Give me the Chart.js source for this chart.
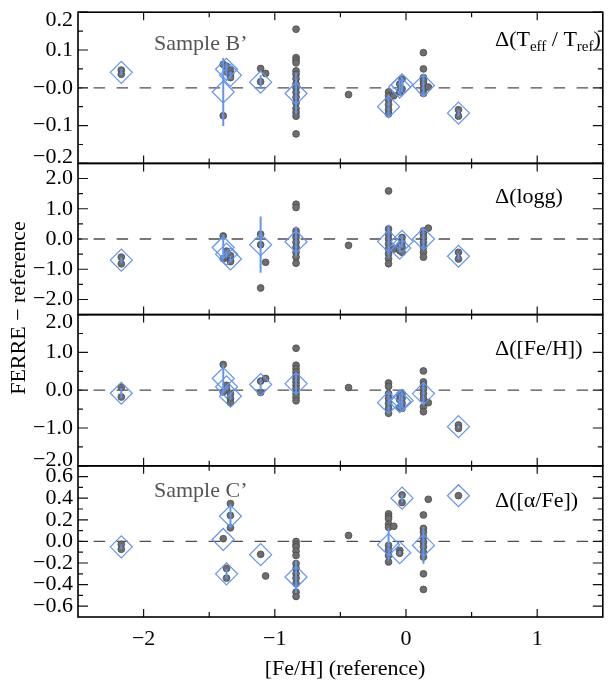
<!DOCTYPE html>
<html><head><meta charset="utf-8">
<script src="https://cdn.jsdelivr.net/npm/chart.js@4.4.0/dist/chart.umd.min.js"></script>
<style>
html,body{margin:0;padding:0;background:#fff;overflow:hidden;width:609px;height:687px;}
#wrap{position:absolute;left:0;top:0;width:615px;height:687px;}
</style></head><body>
<div id="wrap"><canvas id="c"></canvas></div>
<script>
// ---- x axis ----
const xTicks = [-2, -1, 0, 1];
const xTickLabels = ['−2', '−1', '0', '1'];
const xMinorTicks = [-1.5, -0.5, 0.5];

// ---- y axes ticks ----
const y1Ticks = [0.2, 0.1, 0, -0.1, -0.2];
const y1TickLabels = ['0.2', '0.1', '−0.0', '−0.1', '−0.2'];
const y1Minor = [0.15, 0.05, -0.05, -0.15];
const y2Ticks = [2, 1, 0, -1, -2];
const y2TickLabels = ['2.0', '1.0', '0.0', '−1.0', '−2.0'];
const y2Minor = [1.5, 0.5, -0.5, -1.5];
const y3Ticks = [2, 1, 0, -1, -2];
const y3TickLabels = ['2.0', '1.0', '0.0', '−1.0', '−2.0'];
const y3Minor = [1.5, 0.5, -0.5, -1.5];
const y4Ticks = [0.6, 0.4, 0.2, 0, -0.2, -0.4, -0.6];
const y4TickLabels = ['0.6', '0.4', '0.2', '0.0', '−0.2', '−0.4', '−0.6'];
const y4Minor = [0.5, 0.3, 0.1, -0.1, -0.3, -0.5];

// ---- per-star means (diamonds) and scatter (error bars) ----
const starFeH  = [-2.17, -1.393, -1.368, -1.338, -1.108, -0.838, -0.133, -0.048, -0.030, 0.133, 0.40];
const teffMean = [0.041, -0.011, 0.049, 0.033, 0.015, -0.015, -0.05, 0.002, 0.008, 0.006, -0.067];
const teffErr  = [0.008, 0.09, 0.02, 0.01, 0.018, 0.055, 0.028, 0.02, 0.02, 0.03, 0.008];
const loggMean = [-0.70, -0.28, -0.50, -0.66, -0.19, -0.09, -0.08, -0.30, -0.08, 0.0, -0.57];
const loggErr  = [0.1, 0.4, 0.1, 0.1, 0.93, 0.5, 0.55, 0.15, 0.2, 0.33, 0.1];
const fehMean  = [-0.08, 0.31, 0.09, -0.16, 0.15, 0.175, -0.33, -0.30, -0.27, -0.09, -0.965];
const fehErr   = [0.13, 0.37, 0.05, 0.1, 0.15, 0.3, 0.25, 0.2, 0.2, 0.3, 0.04];
const alphaMean = [-0.05, 0.018, -0.30, 0.233, -0.123, -0.33, -0.03, -0.104, 0.40, -0.037, 0.423];
const alphaErr  = [0.02, 0, 0.045, 0.11, 0, 0.15, 0.15, 0.015, 0.035, 0.17, 0];

// ---- individual measurements (grey dots), grouped by reference [Fe/H] ----
const dotFeH = [-2.17, -1.393, -1.368, -1.338, -1.108, -1.07, -0.838, -0.438, -0.133, -0.093, -0.048, -0.030, 0.133, 0.17, 0.40];
const teffDots = [
  [0.047, 0.036], [0.062, -0.074], [0.057, 0.042], [0.047, 0.036, 0.027],
  [0.051, 0.016], [0.038],
  [0.155, 0.08, 0.073, 0.066, 0.045, 0.036, 0.024, 0.01, 0.0, -0.012, -0.025, -0.04, -0.055, -0.065, -0.075, -0.122],
  [-0.018],
  [-0.011, -0.021, -0.032, -0.045, -0.058, -0.069], [-0.021],
  [0.01, -0.011], [0.023, -0.003],
  [0.093, 0.05, 0.027, 0.019, 0.01, -0.003, -0.015], [0.002],
  [-0.058, -0.075]
];
const loggDots = [
  [-0.6, -0.82], [0.1, -0.65], [-0.4, -0.58], [-0.55, -0.72, -0.75],
  [0.16, -0.19, -1.62], [-0.77],
  [1.15, 1.04, 0.27, 0.16, 0.05, -0.11, -0.27, -0.44, -0.6, -0.8],
  [-0.21],
  [1.59, 0.33, 0.16, 0.0, -0.16, -0.33, -0.49, -0.66, -0.82], [-0.33],
  [-0.22, -0.38], [0.05, -0.11, -0.27, -0.44],
  [0.27, 0.16, 0.05, -0.11, -0.27, -0.44, -0.6], [0.36],
  [-0.44, -0.66]
];
const fehDots = [
  [0.08, -0.18], [0.68, -0.05], [0.13, 0.04], [-0.09, -0.22, -0.33],
  [0.24, -0.06], [0.31],
  [1.11, 0.66, 0.57, 0.48, 0.39, 0.31, 0.22, 0.13, 0.04, -0.09, -0.19, -0.28],
  [0.07],
  [0.19, 0.1, -0.09, -0.22, -0.35, -0.48, -0.61], [],
  [-0.12, -0.25, -0.45], [-0.09, -0.22, -0.35, -0.48],
  [0.51, 0.22, 0.13, 0.04, -0.09, -0.22, -0.44, -0.57], [-0.33],
  [-0.92, -1.01]
];
const alphaDots = [
  [-0.027, -0.073], [0.025], [-0.25, -0.34], [0.35, 0.24, 0.126],
  [-0.12], [-0.32],
  [0.0, -0.03, -0.05, -0.09, -0.13, -0.205, -0.25, -0.30, -0.34, -0.39, -0.47, -0.51],
  [0.055],
  [0.255, 0.23, 0.21, 0.16, 0.13, -0.037, -0.08, -0.13, -0.19], [0.14],
  [-0.083, -0.11], [0.43, 0.36],
  [0.245, 0.12, 0.086, 0.04, -0.006, -0.05, -0.1, -0.145, -0.30, -0.445], [0.39],
  [0.423]
];

const panelLabels = ['Δ(Teff / Tref)', 'Δ(logg)', 'Δ([Fe/H])', 'Δ([α/Fe])'];
const sampleLabels = ['Sample B’', 'Sample C’'];
const xTitle = '[Fe/H] (reference)';
const yTitle = 'FERRE − reference';

// ---- build ----
const panels = [
  {id: 'y1', min: -0.2, max: 0.2, mean: teffMean, err: teffErr, dots: teffDots, ticks: y1Ticks, labels: y1TickLabels, minor: y1Minor},
  {id: 'y2', min: -2.5, max: 2.5, mean: loggMean, err: loggErr, dots: loggDots, ticks: y2Ticks, labels: y2TickLabels, minor: y2Minor},
  {id: 'y3', min: -2, max: 2, mean: fehMean, err: fehErr, dots: fehDots, ticks: y3Ticks, labels: y3TickLabels, minor: y3Minor},
  {id: 'y4', min: -0.7, max: 0.7, mean: alphaMean, err: alphaErr, dots: alphaDots, ticks: y4Ticks, labels: y4TickLabels, minor: y4Minor}
];
const BLUE = '#6495ED';
const SERIF = '"Liberation Serif", "Times New Roman", serif';

const datasets = [];
panels.forEach(p => {
  datasets.push({
    data: starFeH.map((x, i) => ({x, y: p.mean[i]})),
    yAxisID: p.id, order: 1,
    pointStyle: 'rectRot', pointRadius: 11, pointBorderWidth: 1.2,
    pointBackgroundColor: 'rgba(0,0,0,0)', pointBorderColor: BLUE, showLine: false
  });
  const eb = [];
  starFeH.forEach((x, i) => {
    if (p.err[i] > 0) {
      eb.push({x, y: p.mean[i] - p.err[i]}, {x, y: p.mean[i] + p.err[i]}, {x, y: null});
    }
  });
  datasets.push({
    data: eb, yAxisID: p.id, order: 2, showLine: true, spanGaps: false,
    pointRadius: 0, borderColor: BLUE, borderWidth: 2
  });
  const pts = [];
  dotFeH.forEach((x, i) => p.dots[i].forEach(v => pts.push({x, y: v})));
  datasets.push({
    data: pts, yAxisID: p.id, order: 3, showLine: false,
    pointRadius: 3.4, pointBackgroundColor: '#6e6e6e', pointBorderColor: '#4a4a4a', pointBorderWidth: 0.8
  });
  datasets.push({
    data: [{x: -2.5, y: 0}, {x: 1.5, y: 0}], yAxisID: p.id, order: 4, showLine: true,
    pointRadius: 0, borderColor: '#4d4d4d', borderWidth: 1.3,
    borderDash: [11.5, 11.5], borderDashOffset: 7.4
  });
});

function drawSubText(ctx, parts, x, y, big, small) {
  let cx = x;
  parts.forEach(([t, sub]) => {
    ctx.font = (sub ? small : big) + 'px ' + SERIF;
    ctx.fillText(t, cx, sub ? y + 5 : y);
    cx += ctx.measureText(t).width;
  });
}

const framePlugin = {
  id: 'frames',
  afterDraw(chart) {
    const ctx = chart.ctx;
    const xs = chart.scales.x;
    const L = xs.left, R = xs.right;
    ctx.save();
    panels.forEach((p, k) => {
      const ys = chart.scales[p.id];
      const T = ys.top, B = ys.bottom;
      ctx.strokeStyle = '#111';
      ctx.lineWidth = 1.2;
      ctx.beginPath();
      p.ticks.forEach(v => {
        const y = ys.getPixelForValue(v);
        ctx.moveTo(L, y); ctx.lineTo(L + 10, y);
        ctx.moveTo(R, y); ctx.lineTo(R - 10, y);
      });
      p.minor.forEach(v => {
        const y = ys.getPixelForValue(v);
        ctx.moveTo(L, y); ctx.lineTo(L + 5, y);
        ctx.moveTo(R, y); ctx.lineTo(R - 5, y);
      });
      xTicks.forEach(v => {
        const x = xs.getPixelForValue(v);
        ctx.moveTo(x, T); ctx.lineTo(x, T + 8);
        ctx.moveTo(x, B); ctx.lineTo(x, B - 8);
      });
      xMinorTicks.forEach(v => {
        const x = xs.getPixelForValue(v);
        ctx.moveTo(x, T); ctx.lineTo(x, T + 5);
        ctx.moveTo(x, B); ctx.lineTo(x, B - 5);
      });
      ctx.stroke();
      ctx.lineWidth = 1.6;
      ctx.strokeStyle = '#000';
      ctx.strokeRect(L, T, R - L, B - T);

      // tick labels
      ctx.fillStyle = '#000';
      ctx.font = '22px ' + SERIF;
      ctx.textAlign = 'right';
      ctx.textBaseline = 'middle';
      p.ticks.forEach((v, i) => {
        let y = ys.getPixelForValue(v);
        y = Math.max(T + 8, Math.min(B - 6, y));
        ctx.fillText(p.labels[i], 73, y);
      });
    });

    // panel labels
    ctx.textAlign = 'left';
    ctx.textBaseline = 'alphabetic';
    ctx.fillStyle = '#000';
    const t1 = chart.scales.y1.top, t2 = chart.scales.y2.top, t3 = chart.scales.y3.top, t4 = chart.scales.y4.top;
    drawSubText(ctx, [['Δ(T', false], ['eff', true], [' / T', false], ['ref', true], [')', false]], 495, t1 + 34, 22, 15);
    ctx.font = '22px ' + SERIF;
    ctx.fillText(panelLabels[1], 495, t2 + 40);
    ctx.fillText(panelLabels[2], 495, t3 + 40);
    ctx.fillText(panelLabels[3], 495, t4 + 41);

    ctx.fillStyle = '#555';
    ctx.fillText(sampleLabels[0], 154, t1 + 38);
    ctx.fillText(sampleLabels[1], 154, t4 + 31);

    // x tick labels
    ctx.fillStyle = '#000';
    ctx.textAlign = 'center';
    const bottom = chart.scales.y4.bottom;
    xTicks.forEach((v, i) => {
      ctx.fillText(xTickLabels[i], xs.getPixelForValue(v), bottom + 28);
    });
    ctx.fillText(xTitle, 345, bottom + 58);

    // y title
    ctx.save();
    ctx.translate(25, 308);
    ctx.rotate(-Math.PI / 2);
    ctx.textAlign = 'center';
    ctx.fillText(yTitle, 0, 0);
    ctx.restore();
    ctx.restore();
  }
};

const yScale = (min, max, w) => ({
  type: 'linear', min, max, display: false, position: 'left', stack: 'panels', stackWeight: 1, weight: w
});

new Chart(document.getElementById('c'), {
  type: 'scatter',
  data: {datasets},
  options: {
    responsive: true, maintainAspectRatio: false, animation: false, events: [],
    layout: {padding: {left: 78, right: 3, top: 7, bottom: 70}},
    plugins: {legend: {display: false}, tooltip: {enabled: false}},
    scales: {
      x: {type: 'linear', min: -2.5, max: 1.5, display: false},
      y4: yScale(-0.7, 0.7, 1),
      y3: yScale(-2, 2, 2),
      y2: yScale(-2.5, 2.5, 3),
      y1: yScale(-0.2, 0.2, 4)
    }
  },
  plugins: [framePlugin]
});
</script>
</body></html>
